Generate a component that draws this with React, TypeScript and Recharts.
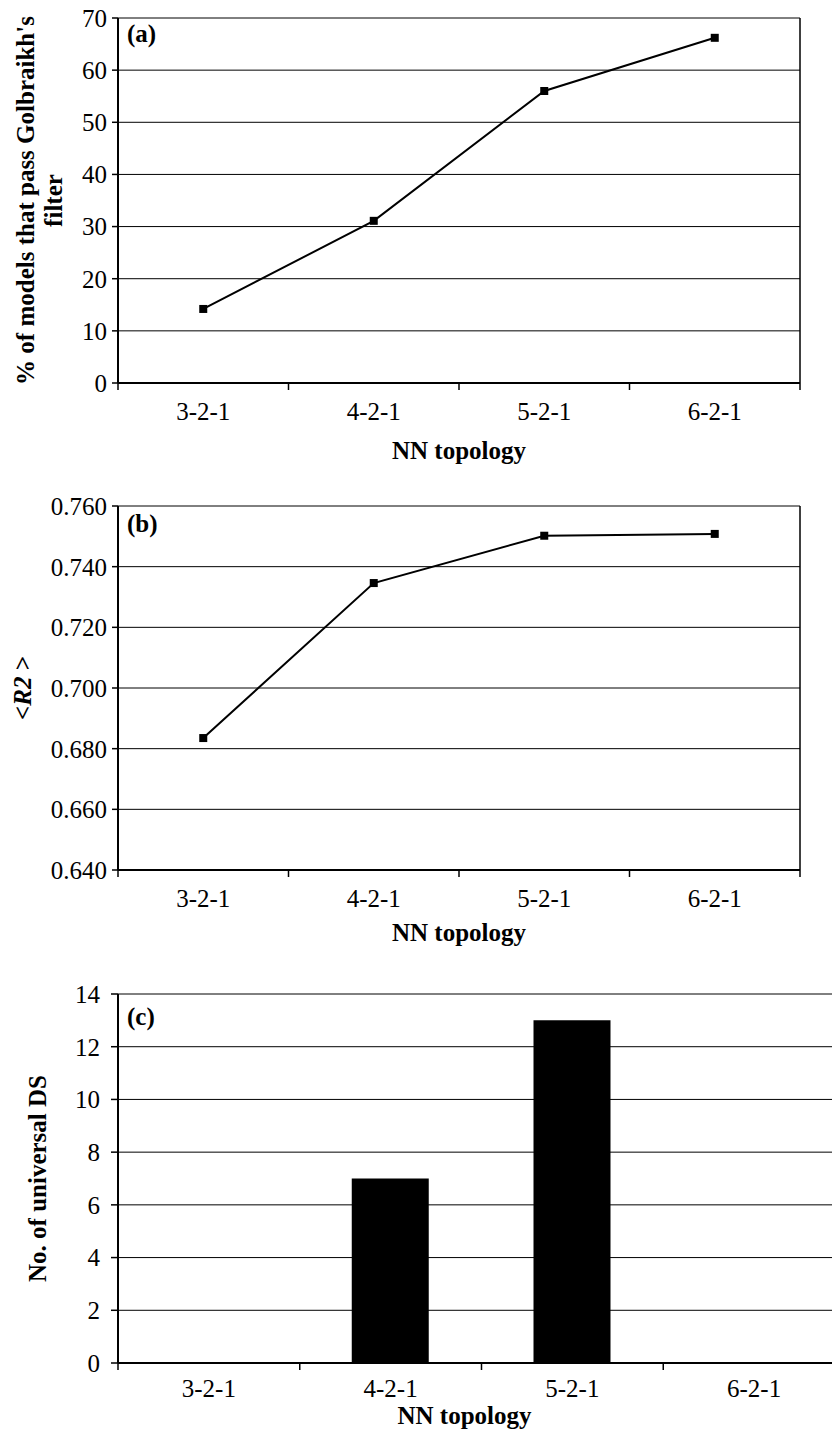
import React from 'react';
import { LineChart, Line, BarChart, Bar, XAxis, YAxis, CartesianGrid, ReferenceLine } from 'recharts';

const categories = ['3-2-1', '4-2-1', '5-2-1', '6-2-1'];
const passPercent = [14.2, 31.1, 56.0, 66.2];
const meanR2 = [0.6835, 0.7346, 0.7502, 0.7508];
const universalDS = [0, 7, 13, 0];
const ticksA = [0, 10, 20, 30, 40, 50, 60, 70];
const ticksB = [0.64, 0.66, 0.68, 0.7, 0.72, 0.74, 0.76];
const ticksC = [0, 2, 4, 6, 8, 10, 12, 14];
const xTicks = [0, 0.5, 1, 1.5, 2, 2.5, 3, 3.5, 4];

const FONT = 'Liberation Serif, Tinos, Times New Roman, Times, DejaVu Serif, serif';
const TICK_FS = 25;
const TITLE_FS = 25;

const dataA = categories.map((c, i) => ({ x: i + 0.5, name: c, v: passPercent[i] }));
const dataB = categories.map((c, i) => ({ x: i + 0.5, name: c, v: meanR2[i] }));
const dataC = categories.map((c, i) => ({ x: i + 0.5, name: c, v: universalDS[i] }));

const SquareDot = (props: any) => {
  const { cx, cy, index } = props;
  if (cx == null || cy == null) return null;
  return <rect key={`d${index}`} x={cx - 4} y={cy - 4} width={8} height={8} fill="#000" />;
};

const makeXTick = (labelDy: number) => (props: any) => {
  const { x, y, payload } = props;
  const v = payload.value;
  if (Number.isInteger(v)) {
    return <line x1={x} x2={x} y1={y} y2={y + 7} stroke="#000" strokeWidth={1.5} />;
  }
  return (
    <text x={x} y={y + labelDy} textAnchor="middle" style={{ fontFamily: FONT }} fontSize={TICK_FS} fill="#000">
      {categories[Math.floor(v)]}
    </text>
  );
};

const makeXTitle = (dy: number, dx: number) => (props: any) => {
  const vb = props.viewBox;
  return (
    <text x={vb.x + vb.width / 2 + dx} y={vb.y + dy} textAnchor="middle" style={{ fontFamily: FONT }} fontSize={TITLE_FS} fontWeight="bold" fill="#000">
      NN topology
    </text>
  );
};

const panelLetter = (vb: any, letter: string, dy: number) => (
  <text x={vb.x + vb.width + 9} y={vb.y + dy} style={{ fontFamily: FONT }} fontSize={25} fontWeight="bold" fill="#000">
    {letter}
  </text>
);

const rot = (cx: number, cy: number, content: React.ReactNode, key: string) => (
  <text key={key} x={cx} y={cy} transform={`rotate(-90 ${cx} ${cy})`} textAnchor="middle" dominantBaseline="central"
    style={{ fontFamily: FONT }} fontSize={TITLE_FS} fontWeight="bold" fill="#000">
    {content}
  </text>
);

const yTitleA = (props: any) => {
  const vb = props.viewBox;
  const cy = vb.y + vb.height / 2;
  return (
    <g>
      {rot(25, cy, "% of models that pass Golbraikh's", 'l1')}
      {rot(53, cy, 'filter', 'l2')}
      {panelLetter(vb, '(a)', 24)}
    </g>
  );
};

const yTitleB = (props: any) => {
  const vb = props.viewBox;
  const cy = vb.y + vb.height / 2;
  return (
    <g>
      {rot(22, cy, (<>
        <tspan>&lt;</tspan>
        <tspan fontStyle="italic">R2</tspan>
        <tspan> &gt;</tspan>
      </>), 'l1')}
      {panelLetter(vb, '(b)', 26)}
    </g>
  );
};

const yTitleC = (props: any) => {
  const vb = props.viewBox;
  const cy = vb.y + vb.height / 2;
  return (
    <g>
      {rot(37, cy, 'No. of universal DS', 'l1')}
      {panelLetter(vb, '(c)', 31)}
    </g>
  );
};

const axisLine = { stroke: '#000', strokeWidth: 2 };
const tickLine = { stroke: '#000', strokeWidth: 1.5 };
const yTick = { fill: '#000', fontSize: TICK_FS, style: { fontFamily: FONT } };

export default function App() {
  return (
    <div style={{ position: 'absolute', left: 0, top: 0, width: 832, height: 1431, overflow: 'hidden', background: '#fff', fontFamily: FONT }}>
      <div style={{ position: 'absolute', left: 0, top: 0 }}>
        <LineChart width={832} height={470} data={dataA} margin={{ top: 18, right: 32, bottom: 0, left: 0 }} style={{ fontFamily: FONT }}>
          <CartesianGrid vertical={false} stroke="#000" strokeWidth={1} />
          <XAxis type="number" dataKey="x" domain={[0, 4]} ticks={xTicks} interval={0} height={87}
            tickSize={0} tickMargin={0} axisLine={axisLine} tickLine={false} tick={makeXTick(37)}
            label={{ content: makeXTitle(76, 0) }} />
          <YAxis type="number" domain={[0, 70]} ticks={ticksA} interval={0} width={118} tickSize={6} tickMargin={5}
            axisLine={axisLine} tickLine={tickLine} tick={yTick} label={{ content: yTitleA }} />
          <ReferenceLine x={4} stroke="#000" strokeWidth={1.5} />
          <Line dataKey="v" stroke="#000" strokeWidth={2} dot={SquareDot} isAnimationActive={false} />
        </LineChart>
      </div>
      <div style={{ position: 'absolute', left: 0, top: 480 }}>
        <LineChart width={832} height={470} data={dataB} margin={{ top: 26, right: 32, bottom: 0, left: 0 }} style={{ fontFamily: FONT }}>
          <CartesianGrid vertical={false} stroke="#000" strokeWidth={1} />
          <XAxis type="number" dataKey="x" domain={[0, 4]} ticks={xTicks} interval={0} height={80}
            tickSize={0} tickMargin={0} axisLine={axisLine} tickLine={false} tick={makeXTick(37)}
            label={{ content: makeXTitle(71, 0) }} />
          <YAxis type="number" domain={[0.64, 0.76]} ticks={ticksB} interval={0} width={118} tickSize={6} tickMargin={5}
            axisLine={axisLine} tickLine={tickLine} tick={yTick} tickFormatter={(v: number) => v.toFixed(3)}
            label={{ content: yTitleB }} />
          <ReferenceLine x={4} stroke="#000" strokeWidth={1.5} />
          <Line dataKey="v" stroke="#000" strokeWidth={2} dot={SquareDot} isAnimationActive={false} />
        </LineChart>
      </div>
      <div style={{ position: 'absolute', left: 0, top: 960 }}>
        <BarChart width={900} height={471} data={dataC} margin={{ top: 34, right: 55, bottom: 0, left: 0 }} style={{ fontFamily: FONT }}>
          <CartesianGrid vertical={false} stroke="#000" strokeWidth={1} />
          <XAxis type="number" dataKey="x" domain={[0, 4]} ticks={xTicks} interval={0} height={68}
            tickSize={0} tickMargin={0} axisLine={axisLine} tickLine={false} tick={makeXTick(34)}
            label={{ content: makeXTitle(61, -17) }} />
          <YAxis type="number" domain={[0, 14]} ticks={ticksC} interval={0} width={118} tickSize={7} tickMargin={11}
            axisLine={axisLine} tickLine={tickLine} tick={yTick} label={{ content: yTitleC }} />
          <Bar dataKey="v" fill="#000" barSize={77} isAnimationActive={false} />
        </BarChart>
      </div>
    </div>
  );
}
